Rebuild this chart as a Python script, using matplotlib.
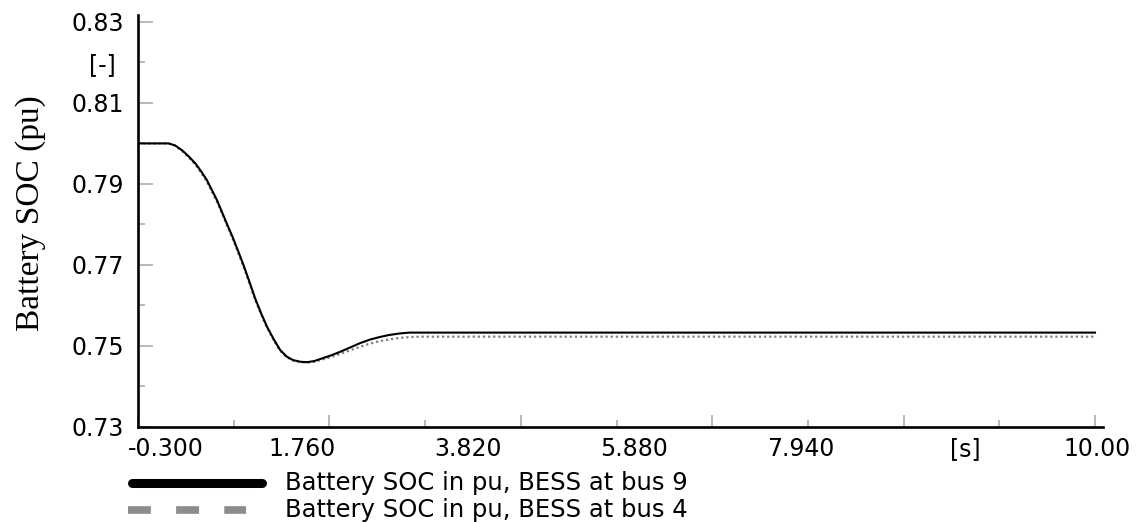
import matplotlib
matplotlib.use("Agg")
import matplotlib.pyplot as plt
from matplotlib.lines import Line2D
from matplotlib.ticker import FixedLocator, FixedFormatter, NullFormatter

# Simulation time [s]
time_s = [-0.3, 0.03, 0.10, 0.18, 0.25, 0.32, 0.38, 0.44, 0.55, 0.66, 0.72,
          0.78, 0.84, 0.90, 0.96, 1.03, 1.09, 1.16, 1.23, 1.30, 1.37, 1.45,
          1.52, 1.60, 1.69, 1.78, 1.87, 1.98, 2.09, 2.20, 2.30, 2.40, 2.52,
          2.62, 2.75, 10.0]

# Battery state of charge [pu]
soc_bus9 = [0.8000, 0.8000, 0.7995, 0.7982, 0.7967, 0.7950, 0.7931, 0.7910,
            0.7860, 0.7800, 0.7768, 0.7733, 0.7697, 0.7658, 0.7618, 0.7578,
            0.7547, 0.7517, 0.7490, 0.7474, 0.7465, 0.7461, 0.7460, 0.7463,
            0.7470, 0.7477, 0.7485, 0.7496, 0.7507, 0.7516, 0.7522, 0.7527,
            0.7531, 0.7533, 0.7533, 0.7533]
soc_bus4 = [0.8000, 0.8000, 0.7994, 0.7980, 0.7964, 0.7947, 0.7927, 0.7906,
            0.7856, 0.7796, 0.7764, 0.7729, 0.7693, 0.7654, 0.7614, 0.7575,
            0.7544, 0.7514, 0.7488, 0.7472, 0.7464, 0.7460, 0.7459, 0.7461,
            0.7467, 0.7473, 0.7480, 0.7489, 0.7498, 0.7506, 0.7512, 0.7516,
            0.7520, 0.7522, 0.7523, 0.7523]

series_labels = ["Battery SOC in pu, BESS at bus 9",
                 "Battery SOC in pu, BESS at bus 4"]

x_major = [-0.3, 1.76, 3.82, 5.88, 7.94, 10.0]
x_minor = [0.73, 2.79, 4.85, 6.91, 8.97]
x_tick_text = ["-0.300", "1.760", "3.820", "5.880", "7.940", "[s]", "10.00"]

y_major = [0.73, 0.75, 0.77, 0.79, 0.81, 0.83]
y_minor = [0.74, 0.76, 0.78, 0.80, 0.82]
y_major_text = ["0.73", "0.75", "0.77", "0.79", "0.81", "0.83"]
y_minor_text = ["", "", "", "", "[-]"]

W, H = 1143, 522
fig = plt.figure(figsize=(W / 100, H / 100), dpi=100)
ax = fig.add_axes([138 / W, 1 - 427 / H, (1103 - 138) / W, (427 - 15) / H])

ax.plot(time_s, soc_bus4, color="#808080", lw=1.6, ls=(0, (1, 1.3)), zorder=2)
ax.plot(time_s, soc_bus9, color="black", lw=1.5, zorder=3)

ax.set_xlim(-0.3, 10.086)
ax.set_ylim(0.73, 0.8317)

for side in ("top", "right"):
    ax.spines[side].set_visible(False)
for side in ("left", "bottom"):
    ax.spines[side].set_linewidth(1.9)
    ax.spines[side].set_color("black")

tick_font = dict(family="DejaVu Sans", size=17)
legend_font = dict(family="DejaVu Sans", size=17.5)

ax.yaxis.set_major_locator(FixedLocator(y_major))
ax.yaxis.set_major_formatter(FixedFormatter(y_major_text))
ax.yaxis.set_minor_locator(FixedLocator(y_minor))
ax.yaxis.set_minor_formatter(FixedFormatter(y_minor_text))
ax.tick_params(axis="y", which="major", direction="in", length=11, width=1.2,
               color="#a9adb5", pad=10, labelsize=17)
ax.tick_params(axis="y", which="minor", direction="in", length=5, width=1.2,
               color="#a9adb5", pad=16, labelsize=17)

ax.xaxis.set_major_locator(FixedLocator(x_major))
ax.xaxis.set_minor_locator(FixedLocator(x_minor))
ax.xaxis.set_major_formatter(NullFormatter())
ax.tick_params(axis="x", which="major", direction="in", length=9, width=1.2,
               color="#a9adb5")
ax.tick_params(axis="x", which="minor", direction="in", length=5, width=1.2,
               color="#a9adb5")

for lbl in ax.get_yticklabels(which="both"):
    lbl.set_family("DejaVu Sans")

# x tick captions sit on their own row below the axis
x_text_px = [166, 302, 468, 634, 801, 965, 1097]
for px, txt in zip(x_text_px, x_tick_text):
    fig.text(px / W, 1 - 449 / H, txt, ha="center", va="center", **tick_font)

ax.set_ylabel("Battery SOC (pu)", family="Liberation Serif", fontsize=24)
ax.yaxis.set_label_coords(-0.095, 0.52)

# legend rows
fig.add_artist(Line2D([132 / W, 262 / W], [1 - 483 / H] * 2, color="black",
                      lw=6.5, solid_capstyle="round",
                      transform=fig.transFigure))
fig.add_artist(Line2D([128 / W, 246 / W], [1 - 510 / H] * 2, color="#8c8c8c",
                      lw=5.5, ls=(0, (3.0, 3.3)), dash_capstyle="butt",
                      transform=fig.transFigure))
fig.text(285 / W, 1 - 483 / H, series_labels[0], ha="left", va="center",
         **legend_font)
fig.text(285 / W, 1 - 510 / H, series_labels[1], ha="left", va="center",
         **legend_font)

fig.savefig("out.png", dpi=100)
